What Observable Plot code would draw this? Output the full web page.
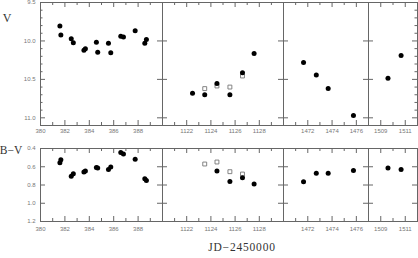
<!DOCTYPE html>
<html><head><meta charset="utf-8">
<script src="https://cdn.jsdelivr.net/npm/d3@7"></script>
<script src="https://cdn.jsdelivr.net/npm/@observablehq/plot@0.6"></script>
<style>
body{margin:0;background:#fff;}
#c{position:relative;width:418px;height:258px;overflow:hidden;background:#fff;}
#c svg{position:absolute;top:0;overflow:visible;}
.lab{position:absolute;font-family:"Liberation Serif",serif;color:#333;line-height:1;white-space:nowrap;transform:translate(-50%,-50%);}
</style></head><body><div id="c"></div>
<script>
// ---- data ----
const panelDomains = [[380, 390], [1120, 1130], [1470, 1477], [1508, 1512]];
const panelTickLabels = [[380, 382, 384, 386, 388], [1122, 1124, 1126, 1128], [1472, 1474, 1476], [1509, 1511]];
const vTickLabels = [9.5, 10.0, 10.5, 11.0];
const bvTickLabels = [0.4, 0.6, 0.8, 1.0, 1.2];

// panel A (JD 380-390)
const dayA = [381.59, 381.67, 382.52, 382.69, 383.56, 383.68, 384.58, 384.69, 385.57, 385.76, 386.58, 386.80, 387.76, 388.55, 388.68];
const vA   = [9.807, 9.924, 9.973, 10.025, 10.12, 10.10, 10.016, 10.146, 10.03, 10.155, 9.94, 9.95, 9.868, 10.03, 9.98];
const bvA  = [0.555, 0.522, 0.703, 0.676, 0.658, 0.647, 0.607, 0.614, 0.629, 0.603, 0.444, 0.46, 0.518, 0.732, 0.75];
// panel B (JD 1120-1130)
const dayB   = [1122.48, 1123.49, 1124.50, 1125.57, 1126.61, 1127.57];
const vB     = [10.68, 10.70, 10.555, 10.70, 10.415, 10.165];
const dayBbv = [1124.50, 1125.57, 1126.61, 1127.57];
const bvB    = [0.647, 0.761, 0.72, 0.79];
const dayBsq = [1123.49, 1124.50, 1125.57, 1126.61];
const vBsq   = [10.62, 10.586, 10.60, 10.456];
const bvBsq  = [0.57, 0.548, 0.654, 0.68];
// panel C (JD 1470-1477)
const dayC = [1471.65, 1472.70, 1473.68, 1475.76];
const vC   = [10.28, 10.443, 10.62, 10.97];
const bvC  = [0.765, 0.67, 0.67, 0.64];
// panel D (JD 1508-1512)
const dayD = [1509.59, 1510.66];
const vD   = [10.486, 10.19];
const bvD  = [0.614, 0.629];

// ---- tables ----
const zip = (xs, ys) => xs.map((x, i) => ({x, y: ys[i]}));
const filled = [
  [zip(dayA, vA), zip(dayB, vB), zip(dayC, vC), zip(dayD, vD)],
  [zip(dayA, bvA), zip(dayBbv, bvB), zip(dayC, bvC), zip(dayD, bvD)]
];
const open = [
  [[], zip(dayBsq, vBsq), [], []],
  [[], zip(dayBsq, bvBsq), [], []]
];

// ---- layout ----
const C = "#666";
const edges = [40, 162, 283, 368, 417];
const rows = [
  {top: 2, bottom: 125, domain: [9.5, 11.1], labels: vTickLabels, fmt: d3.format(".1f"),
   major: [10.0, 10.5, 11.0], minor: d3.range(96, 111).filter(v => v % 5).map(v => v / 10), pad: 3.5},
  {top: 148, bottom: 221, domain: [0.4, 1.2], labels: bvTickLabels, fmt: d3.format(".1f"),
   major: [0.6, 0.8, 1.0], minor: [], pad: 5.5}
];

const root = document.getElementById("c");

rows.forEach((R, r) => {
  panelDomains.forEach(([lo, hi], p) => {
    const x0 = edges[p], x1 = edges[p + 1], w = x1 - x0;
    const ml = p === 0 ? 40 : 0;
    const mb = 14;
    const H = R.bottom + mb;
    const [ya, yb] = R.domain;
    const dx = (hi - lo) / w;
    const dy = (yb - ya) / (R.bottom - R.top);
    const labeled = panelTickLabels[p];
    const days = d3.range(Math.ceil(lo), Math.floor(hi) + 1).filter(d => d > lo && d < hi);
    const longDays = days.filter(d => labeled.includes(d));
    const shortDays = days.filter(d => !labeled.includes(d));
    const xt = (arr, len) => [
      Plot.ruleX(arr, {x: d => d, y1: yb, y2: yb - len * dy, stroke: C}),
      Plot.ruleX(arr, {x: d => d, y1: ya, y2: ya + len * dy, stroke: C})
    ];
    const marks = [
      Plot.frame({stroke: C}),
      ...xt(longDays, 5), ...xt(shortDays, 3),
      Plot.ruleY(R.major, {y: d => d, x1: lo, x2: lo + 5 * dx, stroke: C}),
      Plot.ruleY(R.major, {y: d => d, x1: hi, x2: hi - 5 * dx, stroke: C}),
      p === 0 ? Plot.ruleY(R.minor, {y: d => d, x1: lo, x2: lo + 2.5 * dx, stroke: C}) : null,
      p === 3 ? Plot.ruleY(R.minor, {y: d => d, x1: hi, x2: hi - 2.5 * dx, stroke: C}) : null,
      Plot.axisX(labeled, {anchor: "bottom", tickSize: 0, tickPadding: R.pad, tickFormat: d => String(d), color: "#777", label: null, fontSize: 6}),
      p === 0 ? Plot.axisY(R.labels, {anchor: "left", tickSize: 0, tickPadding: 5, tickFormat: R.fmt, color: "#777", label: null, fontSize: 6}) : null,
      Plot.dot(open[r][p], {x: "x", y: "y", symbol: "square", r: 2.2, stroke: "#777", strokeWidth: 0.9, fill: "none"}),
      Plot.dot(filled[r][p], {x: "x", y: "y", r: 2.5, fill: "black", stroke: "none"})
    ];
    const svg = Plot.plot({
      width: ml + w, height: H,
      marginLeft: ml, marginRight: 0, marginTop: R.top, marginBottom: mb,
      x: {domain: [lo, hi], axis: null},
      y: {domain: R.domain, reverse: true, axis: null},
      style: {fontFamily: "Liberation Sans, sans-serif", fontSize: "6px", background: "transparent", overflow: "visible"},
      marks: marks.filter(Boolean)
    });
    svg.style.left = (x0 - ml) + "px";
    root.appendChild(svg);
  });
});

function label(text, x, y, size, spacing) {
  const d = document.createElement("div");
  d.className = "lab";
  d.textContent = text;
  d.style.left = x + "px";
  d.style.top = y + "px";
  d.style.fontSize = size + "px";
  if (spacing) d.style.letterSpacing = spacing + "px";
  root.appendChild(d);
}
label("V", 7, 18, 12);
label("B\u2212V", 11, 151, 11.5);
label("JD\u22122450000", 242, 248, 11.5, 0.8);
</script></body></html>
